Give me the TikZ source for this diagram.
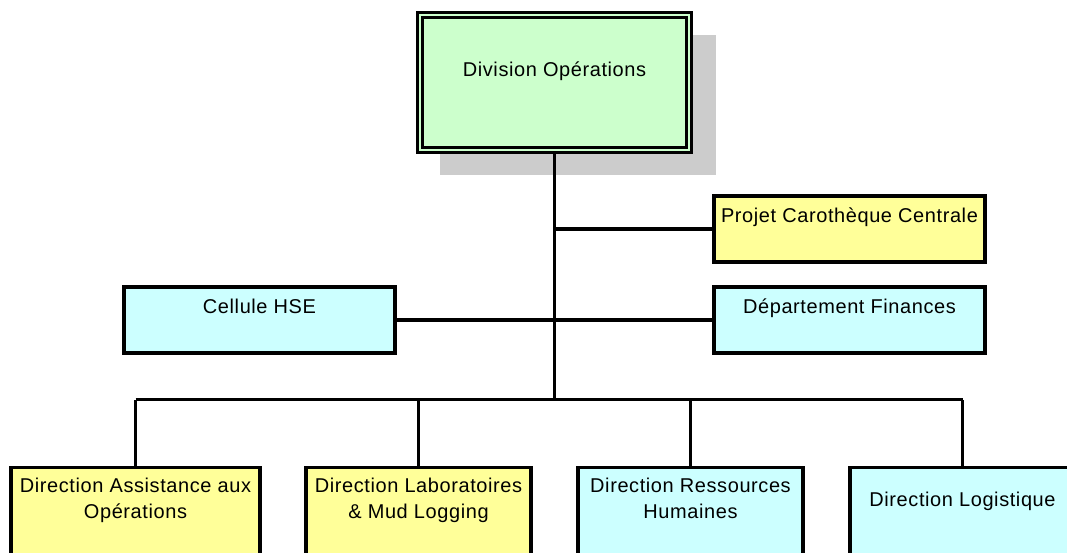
\documentclass[tikz,border=0pt]{standalone}
\usepackage{fontspec}
\usepackage{tikz}
\usetikzlibrary{positioning}
\newfontfamily\policeboite[LetterSpace=3]{Liberation Sans}
\definecolor{vertpale}{RGB}{204,255,204}
\definecolor{jaunepale}{RGB}{255,255,153}
\definecolor{cyanpale}{RGB}{204,255,255}
\definecolor{ombre}{RGB}{204,204,204}
\tikzset{trait/.style={line width=0.08cm}}
\tikzset{boite/.style={draw, line width=0.08cm, align=center, inner sep=0pt,
    font=\policeboite\fontsize{14.2pt}{18.1pt}\selectfont}}
\tikzset{branche/.style={boite, minimum width=6.775cm, minimum height=1.65cm,
    text height=0.65cm, text depth=1.0cm}}
\tikzset{direction/.style={boite, minimum width=5.625cm, minimum height=3cm,
    text height=1.2625cm, text depth=1.7375cm}}

\begin{document}
\begin{tikzpicture}[x=0.025cm, y=-0.025cm]
            \useasboundingbox (0,0) rectangle (1067,553);
            \clip (0,0) rectangle (1067,553);

            % ombre de la division
            \fill[ombre] (440,35) rectangle (716,175);

            \node[boite, fill=vertpale, line width=0.075cm, double=vertpale, double distance=0.05cm,
                  minimum width=6.7cm, minimum height=3.35cm,
                  text height=1.5125cm, text depth=1.8375cm] (div) at (554.5,82.5) {Division Opérations};

            \node[branche, fill=jaunepale] (proj) at (849.5,229) {Projet Carothèque Centrale};
            \node[branche, fill=cyanpale]  (hse)  at (259.5,320) {Cellule HSE};
            \node[branche, fill=cyanpale]  (fin)  at (849.5,320) {Département Finances};

            \node[direction, fill=jaunepale, minimum width=6.225cm] (dao) at (135.5,527.5) {Direction Assistance aux\\Opérations};
            \node[direction, fill=jaunepale] (dlab) at (418.5,527.5) {Direction Laboratoires\\\& Mud Logging};
            \node[direction, fill=cyanpale]  (drh)  at (690.5,527.5) {Direction Ressources\\Humaines};
            \node[direction, fill=cyanpale, text height=0.9625cm, text depth=2.0375cm] (dlog) at (962.5,527.5) {Direction Logistique};

            \coordinate (bus) at (554.5,399.5);

            \draw[trait] (div.south) -- (bus);
            \draw[trait] (div.south |- proj.west) -- (proj.west);
            \draw[trait] (hse.east) -- (fin.west);
            \draw[trait] (dao.north |- bus) -- (dlog.north |- bus);
            \foreach \d in {dao,dlab,drh,dlog}
                \draw[trait] (\d.north) -- (\d.north |- bus);
        \end{tikzpicture}
\end{document}
